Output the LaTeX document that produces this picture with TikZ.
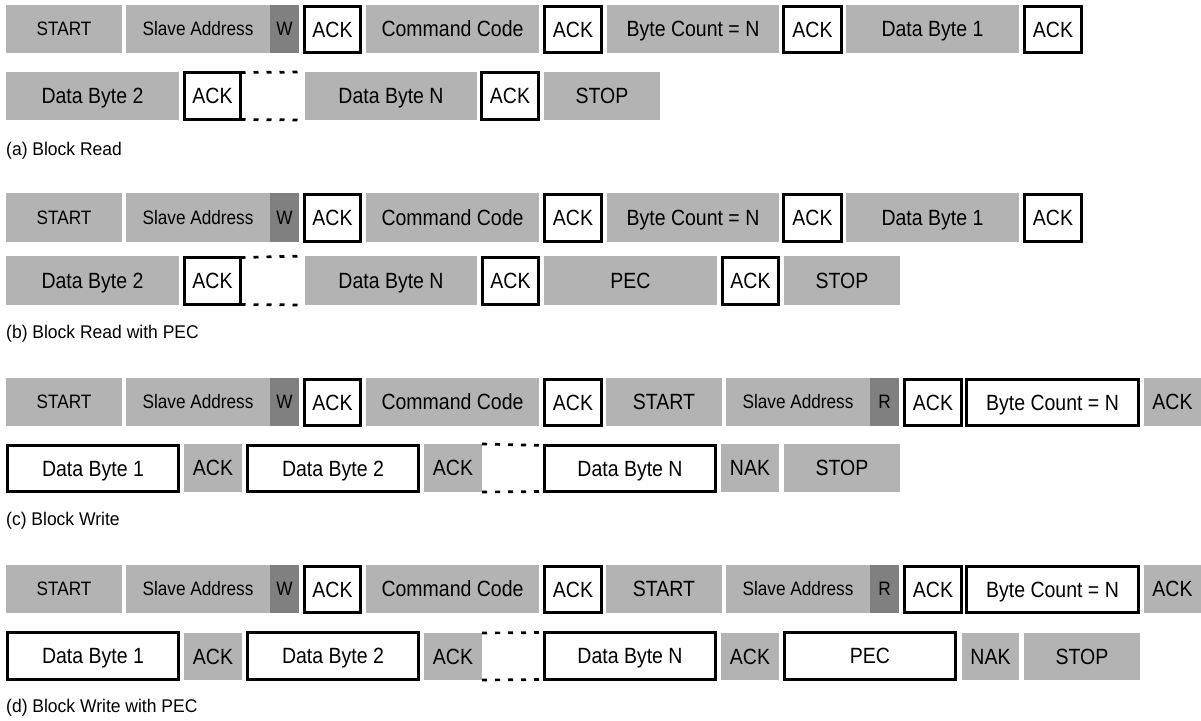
\documentclass[tikz,border=0pt]{standalone}
\usepackage{graphicx}
\usepackage{fontspec}
\setmainfont{Liberation Sans}
\definecolor{pktgray}{HTML}{B3B3B3}
\definecolor{pktdark}{HTML}{808080}
% #1 style, #2 name, #3 x-left, #4 x-right, #5 y-top, #6 y-bottom, #7 text
\newcommand{\pk}[7]{%
  \pgfmathsetmacro\pkw{#4-#3}\pgfmathsetmacro\pkh{#6-#5}%
  \node[#1, minimum width=\pkw bp, minimum height=\pkh bp] (#2) at (#3,#5) {\scalebox{1}[1.13]{#7}};}
\begin{document}
\begin{tikzpicture}[x=1bp,y=-1bp,
  base/.style={rectangle, inner sep=0pt, outer sep=0pt, anchor=north west, text=black},
  mainf/.style={font=\fontsize{19.5bp}{23bp}\selectfont, text height=15.8bp, text depth=0pt},
  smallf/.style={font=\fontsize{17.2bp}{20bp}\selectfont, text height=13.9bp, text depth=0pt},
  gbox/.style={base, mainf, fill=pktgray},
  gsm/.style={base, smallf, fill=pktgray},
  dbox/.style={base, smallf, fill=pktdark},
  wbox/.style={base, mainf, fill=white, draw=black, line width=2.7bp},
  caption/.style={anchor=west, inner sep=0pt, font=\fontsize{17.5bp}{21bp}\selectfont},
  dotline/.style={draw=black, line width=2.7bp, dash pattern=on 5bp off 8bp}]
\useasboundingbox (0,0) rectangle (1201,721);

% ---------- (a) Block Read ----------
\pk{gsm}{a1start}{6}{122}{5}{53}{START}
\pk{gsm}{a1addr}{126}{270}{5}{53}{Slave Address}
\pk{dbox}{a1w}{270}{299}{5}{53}{W}
\pk{wbox}{a1ackA}{304.5}{360.5}{6.5}{52.5}{ACK}
\pk{gbox}{a1cmd}{366}{539}{5}{53}{Command Code}
\pk{wbox}{a1ackB}{544.5}{601.5}{6.5}{52.5}{ACK}
\pk{gbox}{a1cnt}{607}{779}{5}{53}{Byte Count = N}
\pk{wbox}{a1ackC}{783.5}{841.5}{6.5}{52.5}{ACK}
\pk{gbox}{a1dA}{846}{1019}{5}{53}{Data Byte 1}
\pk{wbox}{a1ackD}{1024.5}{1081.5}{6.5}{52.5}{ACK}

\pk{gbox}{a2dB}{6}{179}{72}{120}{Data Byte 2}
\pk{wbox}{a2ackA}{184.5}{240.5}{72.5}{119.5}{ACK}
\pk{gbox}{a2dN}{305}{477}{72}{120}{Data Byte N}
\pk{wbox}{a2ackB}{481.5}{538.5}{72.5}{119.5}{ACK}
\pk{gbox}{a2stop}{544}{660}{72}{120}{STOP}
\draw[dotline] (a2ackA.north east) -- (a2dN.north west);
\draw[dotline] (a2ackA.south east) -- (a2dN.south west);
\node[caption] (capa) at (6,151) {\scalebox{1}[1.05]{(a) Block Read}};

% ---------- (b) Block Read with PEC ----------
\pk{gsm}{b1start}{6}{122}{193}{242}{START}
\pk{gsm}{b1addr}{126}{270}{193}{242}{Slave Address}
\pk{dbox}{b1w}{270}{299}{193}{242}{W}
\pk{wbox}{b1ackA}{304.5}{360.5}{194.5}{241.5}{ACK}
\pk{gbox}{b1cmd}{366}{539}{193}{242}{Command Code}
\pk{wbox}{b1ackB}{544.5}{601.5}{194.5}{241.5}{ACK}
\pk{gbox}{b1cnt}{607}{779}{193}{242}{Byte Count = N}
\pk{wbox}{b1ackC}{783.5}{841.5}{194.5}{241.5}{ACK}
\pk{gbox}{b1dA}{846}{1019}{193}{242}{Data Byte 1}
\pk{wbox}{b1ackD}{1024.5}{1081.5}{194.5}{241.5}{ACK}

\pk{gbox}{b2dB}{6}{179}{256}{305}{Data Byte 2}
\pk{wbox}{b2ackA}{184.5}{240.5}{257.5}{304.5}{ACK}
\pk{gbox}{b2dN}{305}{477}{256}{305}{Data Byte N}
\pk{wbox}{b2ackB}{482.5}{538.5}{257.5}{304.5}{ACK}
\pk{gbox}{b2pec}{544}{717}{256}{305}{PEC}
\pk{wbox}{b2ackC}{722.5}{778.5}{257.5}{304.5}{ACK}
\pk{gbox}{b2stop}{784}{900}{256}{305}{STOP}
\draw[dotline] (b2ackA.north east) -- (b2dN.north west);
\draw[dotline] (b2ackA.south east) -- (b2dN.south west);
\node[caption] (capb) at (6,333.5) {\scalebox{1}[1.05]{(b) Block Read with PEC}};

% ---------- (c) Block Write ----------
\pk{gsm}{c1start}{6}{122}{378}{426}{START}
\pk{gsm}{c1addr}{126}{270}{378}{426}{Slave Address}
\pk{dbox}{c1w}{270}{299}{378}{426}{W}
\pk{wbox}{c1ackA}{304.5}{360.5}{379.5}{425.5}{ACK}
\pk{gbox}{c1cmd}{366}{539}{378}{426}{Command Code}
\pk{wbox}{c1ackB}{544.5}{601.5}{379.5}{425.5}{ACK}
\pk{gbox}{c1start2}{606}{722}{378}{426}{START}
\pk{gsm}{c1addr2}{726}{870}{378}{426}{Slave Address}
\pk{dbox}{c1r}{870}{899}{378}{426}{R}
\pk{wbox}{c1ackC}{904.5}{961.5}{379.5}{425.5}{ACK}
\pk{wbox}{c1cnt}{966.5}{1138.5}{379.5}{425.5}{Byte Count = N}
\pk{gbox}{c1ackD}{1144}{1201}{378}{426}{ACK}

\pk{wbox}{c2dA}{7.5}{178.5}{445.5}{491.5}{Data Byte 1}
\pk{gbox}{c2ackA}{184}{242}{444}{492}{ACK}
\pk{wbox}{c2dB}{247.5}{418.5}{445.5}{491.5}{Data Byte 2}
\pk{gbox}{c2ackB}{424}{482}{444}{492}{ACK}
\pk{wbox}{c2dN}{544.5}{715.5}{445.5}{491.5}{Data Byte N}
\pk{gbox}{c2nak}{721}{779}{444}{492}{NAK}
\pk{gbox}{c2stop}{784}{900}{444}{492}{STOP}
\draw[dotline] (c2ackB.north east) -- (c2dN.north west);
\draw[dotline] (c2ackB.south east) -- (c2dN.south west);
\node[caption] (capc) at (6,521) {\scalebox{1}[1.05]{(c) Block Write}};

% ---------- (d) Block Write with PEC ----------
\pk{gsm}{d1start}{6}{122}{565}{613}{START}
\pk{gsm}{d1addr}{126}{270}{565}{613}{Slave Address}
\pk{dbox}{d1w}{270}{299}{565}{613}{W}
\pk{wbox}{d1ackA}{304.5}{360.5}{566.5}{612.5}{ACK}
\pk{gbox}{d1cmd}{366}{539}{565}{613}{Command Code}
\pk{wbox}{d1ackB}{544.5}{601.5}{566.5}{612.5}{ACK}
\pk{gbox}{d1start2}{606}{722}{565}{613}{START}
\pk{gsm}{d1addr2}{726}{870}{565}{613}{Slave Address}
\pk{dbox}{d1r}{870}{899}{565}{613}{R}
\pk{wbox}{d1ackC}{904.5}{961.5}{566.5}{612.5}{ACK}
\pk{wbox}{d1cnt}{966.5}{1138.5}{566.5}{612.5}{Byte Count = N}
\pk{gbox}{d1ackD}{1144}{1201}{565}{613}{ACK}

\pk{wbox}{d2dA}{7.5}{178.5}{632.5}{679.5}{Data Byte 1}
\pk{gbox}{d2ackA}{184}{242}{633}{680}{ACK}
\pk{wbox}{d2dB}{247.5}{418.5}{632.5}{679.5}{Data Byte 2}
\pk{gbox}{d2ackB}{424}{482}{633}{680}{ACK}
\pk{wbox}{d2dN}{544.5}{715.5}{632.5}{679.5}{Data Byte N}
\pk{gbox}{d2ackC}{721}{779}{633}{680}{ACK}
\pk{wbox}{d2pec}{784.5}{955.5}{632.5}{679.5}{PEC}
\pk{gbox}{d2nak}{962}{1019}{633}{680}{NAK}
\pk{gbox}{d2stop}{1024}{1140}{633}{680}{STOP}
\draw[dotline] (d2ackB.north east) -- (d2dN.north west);
\draw[dotline] (d2ackB.south east) -- (d2dN.south west);
\node[caption] (capd) at (6,708) {\scalebox{1}[1.05]{(d) Block Write with PEC}};
\end{tikzpicture}
\end{document}
